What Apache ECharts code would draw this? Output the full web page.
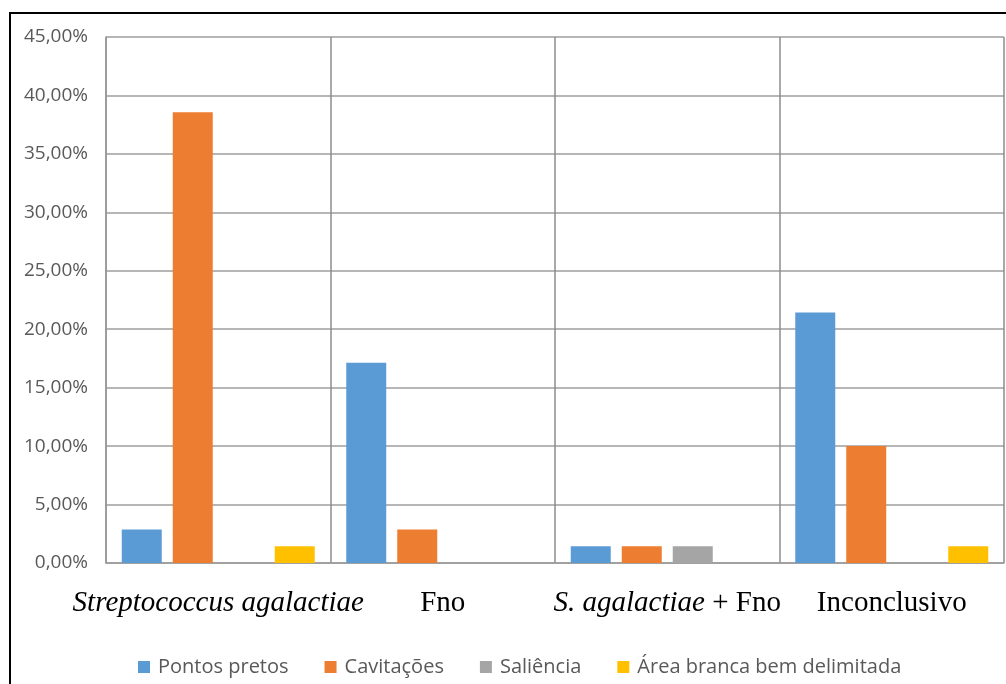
<!DOCTYPE html>
<html>
<head>
<meta charset="utf-8">
<script src="https://cdn.jsdelivr.net/npm/echarts@6/dist/echarts.min.js"></script>
<style>
  html, body { margin: 0; padding: 0; background: #ffffff; }
  #chart { width: 1006px; height: 684px; }
</style>
</head>
<body>
<div id="chart"></div>
<script>
// Categories (x axis)
const categories = ['Streptococcus agalactiae', 'Fno', 'S. agalactiae + Fno', 'Inconclusivo'];
// Series names (legend)
const seriesNames = ['Pontos pretos', 'Cavitações', 'Saliência', 'Área branca bem delimitada'];
// Series values (fraction)
const pontosPretos = [0.0286, 0.1714, 0.0143, 0.2143];
const cavitacoes   = [0.3857, 0.0286, 0.0143, 0.1000];
const saliencia    = [0,      0,      0.0143, 0];
const areaBranca   = [0.0143, 0,      0,      0.0143];
// Y axis ticks
const yMin = 0, yMax = 0.45, yStep = 0.05;

const colors = ['#5B9BD5', '#ED7D31', '#A5A5A5', '#FFC000'];
const seriesData = [pontosPretos, cavitacoes, saliencia, areaBranca];

const chart = echarts.init(document.getElementById('chart'), null, { renderer: 'canvas' });

const sansFont = '"Open Sans", "Noto Sans", sans-serif';
const serifFont = '"Liberation Serif", "DejaVu Serif", serif';

function fmtPct(v) {
  return (v * 100).toFixed(2).replace('.', ',') + '%';
}

function fmtCat(v) {
  if (v === 'Streptococcus agalactiae') return '{i|Streptococcus agalactiae}';
  if (v === 'S. agalactiae + Fno') return '{i|S. agalactiae}{r| + Fno}';
  return '{r|' + v + '}';
}

const option = {
  animation: false,
  color: colors,
  graphic: [{
    type: 'polyline',
    shape: { points: [[10, 684], [10, 13], [1006, 13]] },
    style: { stroke: '#000000', lineWidth: 2, fill: null }
  }],
  grid: {
    left: 106, right: 2, top: 37, bottom: 121,
    containLabel: false,
    show: false
  },
  legend: {
    data: seriesNames,
    left: 133,
    top: 652,
    icon: 'rect',
    itemWidth: 12,
    itemHeight: 12,
    itemGap: 36,
    textStyle: {
      fontFamily: sansFont,
      fontSize: 20,
      color: '#595959',
      padding: [0, 0, 0, 3]
    }
  },
  xAxis: {
    type: 'category',
    data: categories,
    boundaryGap: true,
    axisLine: { show: true, lineStyle: { color: '#9a9a9a', width: 1.5 } },
    axisTick: { show: false },
    splitLine: { show: true, lineStyle: { color: '#8c8c8c', width: 1.5 } },
    axisLabel: {
      margin: 26,
      interval: 0,
      formatter: fmtCat,
      rich: {
        i: { fontFamily: serifFont, fontStyle: 'italic', fontSize: 29, color: '#000000' },
        r: { fontFamily: serifFont, fontSize: 29, color: '#000000' }
      }
    }
  },
  yAxis: {
    type: 'value',
    min: yMin,
    max: yMax,
    interval: yStep,
    axisLine: { show: true, lineStyle: { color: '#9a9a9a', width: 1.5 } },
    axisTick: { show: false },
    splitLine: { show: true, lineStyle: { color: '#9e9e9e', width: 1.5 } },
    axisLabel: {
      margin: 18,
      formatter: fmtPct,
      fontFamily: sansFont,
      fontSize: 19,
      color: '#595959'
    }
  },
  series: seriesNames.map((name, i) => ({
    name: name,
    type: 'bar',
    data: seriesData[i],
    barWidth: 40,
    barGap: '27.5%',
    itemStyle: { color: colors[i] }
  }))
};

chart.setOption(option);
</script>
</body>
</html>
